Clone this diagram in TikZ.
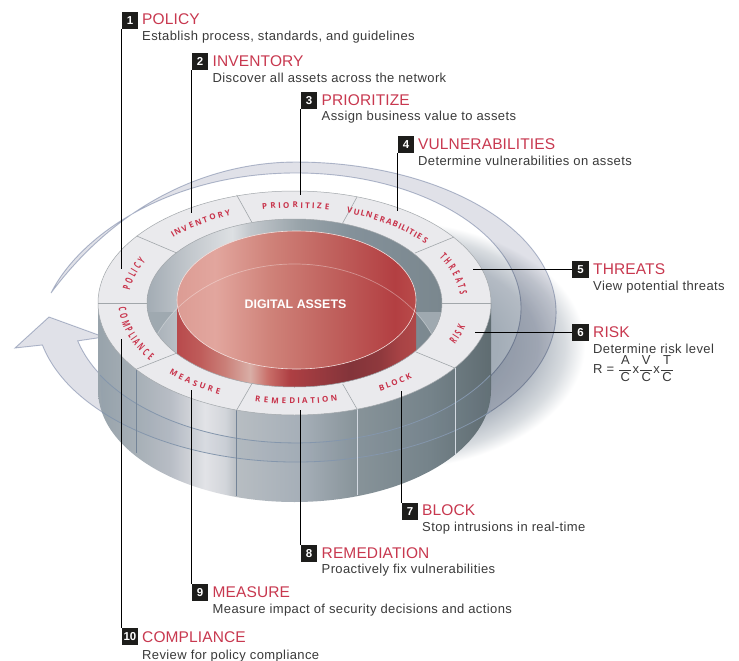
\documentclass[tikz,border=0pt]{standalone}
\usepackage{fontspec}
\usetikzlibrary{decorations.text}
\setmainfont{Liberation Sans}
\newfontfamily\ringfA{Open Sans}
\newfontfamily\ringfC[FakeStretch=0.6]{Open Sans}
\newfontfamily\descf[LetterSpace=3]{Liberation Sans}
\newfontfamily\titlef[LetterSpace=0.8]{Liberation Sans}
\definecolor{ringred}{HTML}{C8324A}
\definecolor{titlered}{HTML}{C8384F}
\definecolor{bodytxt}{HTML}{3A3A3A}
\definecolor{boxblk}{HTML}{1D1D1B}
\definecolor{topface}{HTML}{EAEAED}
\definecolor{ringline}{HTML}{A2A7AB}
\definecolor{bandfill}{HTML}{E0E1E8}
\definecolor{bandline}{HTML}{B8C0D2}
\definecolor{wallline}{HTML}{8496AC}
\newcommand\dc[2]{\definecolor{#1}{HTML}{#2}}
\dc{wa}{98A3AB}\dc{wb}{A6AFB6}\dc{wc}{B8BDC5}\dc{wd}{E2E3E7}\dc{we}{D2D5DA}\dc{wf}{B7BDC2}\dc{wg}{A6AFB8}\dc{wh}{879399}\dc{wi}{75838A}\dc{wj}{5F6C71}
\pgfdeclarehorizontalshading{wallsh}{100bp}{color(0bp)=(wa);color(25bp)=(wa);color(29.8bp)=(wb);color(34.2bp)=(wc);color(38.6bp)=(wd);color(41.2bp)=(we);color(42.7bp)=(wf);color(50.7bp)=(wg);color(58bp)=(wh);color(67.2bp)=(wi);color(75bp)=(wj);color(100bp)=(wj)}
\dc{ha}{A3ACB4}\dc{hb}{C3C8CD}\dc{hc}{DDE0E3}\dc{hd}{C2C7CC}\dc{he}{98A3A9}\dc{hf}{84919A}\dc{hg}{7A878E}
\pgfdeclarehorizontalshading{holesh}{100bp}{color(0bp)=(ha);color(25bp)=(ha);color(32.3bp)=(hb);color(39.4bp)=(hc);color(42.5bp)=(hd);color(50.9bp)=(he);color(59.4bp)=(hf);color(75bp)=(hg);color(100bp)=(hg)}
\dc{fa}{DC9C94}\dc{fb}{E2A69E}\dc{fc}{CF8279}\dc{fd}{C0625E}\dc{fe}{B33F42}\dc{ff}{B94B4A}
\pgfdeclarehorizontalshading{facesh}{100bp}{color(0bp)=(fa);color(25bp)=(fa);color(33bp)=(fb);color(44.5bp)=(fc);color(57bp)=(fd);color(70.6bp)=(fe);color(75bp)=(ff);color(100bp)=(ff)}
\dc{sa}{B84A4C}\dc{sb}{BF5C5A}\dc{sc}{CA7F78}\dc{sd}{D9AEA6}\dc{se}{C96F69}\dc{sf}{AE3F43}\dc{sg}{83343A}\dc{sh}{8F393D}\dc{si}{A84345}\dc{sj}{B04848}
\pgfdeclarehorizontalshading{sidesh}{100bp}{color(0bp)=(sa);color(25bp)=(sa);color(29.8bp)=(sb);color(35bp)=(sc);color(40.3bp)=(sd);color(44bp)=(se);color(48.6bp)=(sf);color(61.2bp)=(sg);color(67.5bp)=(sh);color(71.7bp)=(si);color(75bp)=(sj);color(100bp)=(sj)}
\dc{ra}{A3ADB7}\dc{rb}{B4BBC4}\dc{rc}{D8DCE0}
\pgfdeclareradialshading{shadowrad}{\pgfpoint{0bp}{0bp}}{color(0bp)=(ra);color(14bp)=(ra);color(19bp)=(rb);color(22.5bp)=(rc);color(25bp)=(white);color(50bp)=(white)}
\newcommand\lblA{\ringfA\bfseries\fontsize{8}{9}\selectfont}
\newcommand\lblC{\ringfC\bfseries\fontsize{10.5}{11}\selectfont}
% font, text, a1, a2, rx, ry, half letter gap
\newcommand\ringlab[7]{\path[decorate,decoration={text effects along path,text={#2},text align=center,
    text effects/.cd,text along path,character widths={inner xsep=#7pt},characters={text=ringred,font=#1}}]
  ({294.5+#5*cos(#3)},{303+#6*sin(#3)}) arc[start angle=#3,end angle=#4,x radius=#5,y radius=#6];}
\newcommand\frc[2]{$\displaystyle\frac{\hbox to 12pt{\hss #1\hss}}{\hbox to 12pt{\hss #2\hss}}$}
\tikzset{
  numbox/.style={fill=boxblk,text=white,font=\bfseries\fontsize{11.5}{12}\selectfont,minimum width=16.5pt,minimum height=17pt,inner sep=0pt,anchor=north west},
  titletxt/.style={text=titlered,font=\titlef\fontsize{15.5}{17}\selectfont,inner sep=0pt,anchor=base west},
  desctxt/.style={text=bodytxt,font=\descf\fontsize{13}{14}\selectfont,inner sep=0pt,anchor=base west},
  lead/.style={draw=black,line width=.9pt},
  divider/.style={draw=ringline,line width=.6pt},
  seglineD/.style={draw=black!12!wallline,line width=.6pt},
  seglineL/.style={draw=white!65!wallline,line width=.7pt},
  bandarc/.style={draw=wallline,line width=.8pt}
}
\begin{document}
\begin{tikzpicture}[x=1pt,y=-1pt]
\useasboundingbox (0,0) rectangle (739,661);
\fill[white] (0,0) rectangle (739,661);
% shadow
\shade[shading=shadowrad] (385,345) ellipse[x radius=200,y radius=125];
% swoosh
\filldraw[fill=bandfill,draw=bandline,line width=.9pt,blend mode=multiply]
  (42.4,345) arc[start angle=167.3,end angle=-90,x radius=260,y radius=150]
  .. controls (215,162) and (122,198) .. (51,293)
  .. controls (80,235) and (170,173) .. (296,173)
  arc[start angle=-90,end angle=165.9,x radius=225,y radius=135]
  -- (104,337) -- (49,317) -- (15,348) -- cycle;
% outer wall
\shade[shading=wallsh] (98,303) -- (98,390) arc[start angle=180,end angle=0,x radius=196.5,y radius=112] -- (491,303) -- cycle;
% band seen through wall
\fill[wallline,opacity=.10] (100,375) arc[start angle=150.2,end angle=30,x radius=225,y radius=135]
  -- (491,411) arc[start angle=41.4,end angle=138.2,x radius=260,y radius=150] -- cycle;
\draw[bandarc] (100,375) arc[start angle=150.2,end angle=30,x radius=225,y radius=135];
\draw[bandarc] (102,412) arc[start angle=138.2,end angle=41.4,x radius=260,y radius=150];
\draw[seglineD] (136.5,369) -- (136.5,453);
\draw[seglineD] (236.5,410) -- (236.5,496);
\draw[seglineL] (357,409) -- (357,495);
\draw[seglineL] (455,368) -- (455,455);
% top ring
\filldraw[fill=topface,draw=ringline,line width=.5pt] (294.5,303) ellipse[x radius=196.5,y radius=112];
% hole
\begin{scope}
  \clip (294.5,303) ellipse[x radius=147.5,y radius=84];
  \shade[shading=holesh] (147,219) rectangle (442,387);
  \begin{scope}
    \clip (147,312) rectangle (442,387);
    \fill[even odd rule,fill=ha!65!he] (294.5,382) ellipse[x radius=150,y radius=118] (147,312) rectangle (442,387);
  \end{scope}
  \shade[shading=sidesh] (177,300) rectangle (416,430);
  \shade[shading=facesh] (296.5,300) ellipse[x radius=119.5,y radius=69];
  \draw[white!75!fc,line width=.6pt] (296.5,300) ellipse[x radius=119.5,y radius=69];
  \draw[white,opacity=.35,line width=.7pt] (294.5,382) ellipse[x radius=150,y radius=118];
\end{scope}
\draw[ringline,line width=.5pt] (294.5,303) ellipse[x radius=147.5,y radius=84];
% dividers
\draw[divider] (98,303) -- (147,303);
\draw[divider] (491,303) -- (442,303);
\draw[divider] (136.7,369) -- (177,353);
\draw[divider] (236.7,410) -- (251.7,384);
\draw[divider] (357,409) -- (342.7,384);
\draw[divider] (455,368) -- (416,352);
\draw[divider] (236.7,195) -- (251.7,222);
\draw[divider] (357,197) -- (342.7,223);
\draw[divider] (454,237) -- (415,253);
\draw[divider] (136.7,236) -- (176.7,253);
% centre label
\node[text=white,font=\bfseries\fontsize{12.4}{14}\selectfont,inner sep=0pt] (core) at (295.5,304) {DIGITAL ASSETS};
% ring labels
\ringlab{\lblC}{POLICY}{178}{214}{166}{94}{0}
\ringlab{\lblA}{INVENTORY}{217}{253}{167}{95}{.3}
\ringlab{\lblA}{PRIORITIZE}{253}{288}{167}{95}{.7}
\ringlab{\lblA}{VULNERABILITIES}{280}{333}{167}{95}{0}
\ringlab{\lblC}{THREATS}{327}{360}{166}{94}{0}
\ringlab{\lblC}{RISK}{36}{0}{176}{101}{0}
\ringlab{\lblA}{BLOCK}{71}{36}{176}{101}{.25}
\ringlab{\lblA}{REMEDIATION}{108}{71}{176}{101}{.75}
\ringlab{\lblA}{MEASURE}{144}{108}{176}{101}{.55}
\ringlab{\lblC}{COMPLIANCE}{179}{144}{176}{101}{0}
% number boxes, titles, descriptions
\node[numbox] (b1) at (121.5,12) {1};
\node[titletxt] (t1) at (142,25) {POLICY};
\node[desctxt] (d1) at (142,41) {Establish process, standards, and guidelines};
\node[numbox] (b2) at (191.5,53) {2};
\node[titletxt] (t2) at (212.5,66.5) {INVENTORY};
\node[desctxt] (d2) at (212.5,82) {Discover all assets across the network};
\node[numbox] (b3) at (300.5,92) {3};
\node[titletxt] (t3) at (321.5,105) {PRIORITIZE};
\node[desctxt] (d3) at (321.5,121) {Assign business value to assets};
\node[numbox] (b4) at (397.5,136) {4};
\node[titletxt] (t4) at (418,149) {VULNERABILITIES};
\node[desctxt] (d4) at (418,165) {Determine vulnerabilities on assets};
\node[numbox] (b5) at (572,261) {5};
\node[titletxt] (t5) at (593,274) {THREATS};
\node[desctxt] (d5) at (593,290) {View potential threats};
\node[numbox] (b6) at (572,324) {6};
\node[titletxt] (t6) at (593,337) {RISK};
\node[desctxt] (d6) at (593,353) {Determine risk level};
\node[desctxt] (f6) at (593,373) {R = \frc{A}{C}x\frc{V}{C}x\frc{T}{C}};
\node[numbox] (b7) at (401.5,503) {7};
\node[titletxt] (t7) at (422,515) {BLOCK};
\node[desctxt] (d7) at (422,531) {Stop intrusions in real-time};
\node[numbox] (b8) at (300.5,545) {8};
\node[titletxt] (t8) at (321.5,558) {REMEDIATION};
\node[desctxt] (d8) at (321.5,573) {Proactively fix vulnerabilities};
\node[numbox] (b9) at (191.5,584) {9};
\node[titletxt] (t9) at (212.5,597) {MEASURE};
\node[desctxt] (d9) at (212.5,613) {Measure impact of security decisions and actions};
\node[numbox] (b10) at (121.5,628) {10};
\node[titletxt] (t10) at (142,642) {COMPLIANCE};
\node[desctxt] (d10) at (142,659) {Review for policy compliance};
% leader end points
\coordinate (e1) at (121.5,269);
\coordinate (e2) at (191.5,213);
\coordinate (e3) at (300.5,195);
\coordinate (e4) at (397.5,211);
\coordinate (e5) at (473,269);
\coordinate (e6) at (475,332.5);
\coordinate (e7) at (401.5,391);
\coordinate (e8) at (300.5,410);
\coordinate (e9) at (191.5,390);
\coordinate (e10) at (121.5,339);
\draw[lead] (b1.south west) -- (b1.south west |- e1);
\draw[lead] (b2.south west) -- (b2.south west |- e2);
\draw[lead] (b3.south west) -- (b3.south west |- e3);
\draw[lead] (b4.south west) -- (b4.south west |- e4);
\draw[lead] (b5.west) -- (e5 |- b5.west);
\draw[lead] (b6.west) -- (e6 |- b6.west);
\draw[lead] (b7.north west) -- (b7.north west |- e7);
\draw[lead] (b8.north west) -- (b8.north west |- e8);
\draw[lead] (b9.north west) -- (b9.north west |- e9);
\draw[lead] (b10.north west) -- (b10.north west |- e10);
\end{tikzpicture}
\end{document}
